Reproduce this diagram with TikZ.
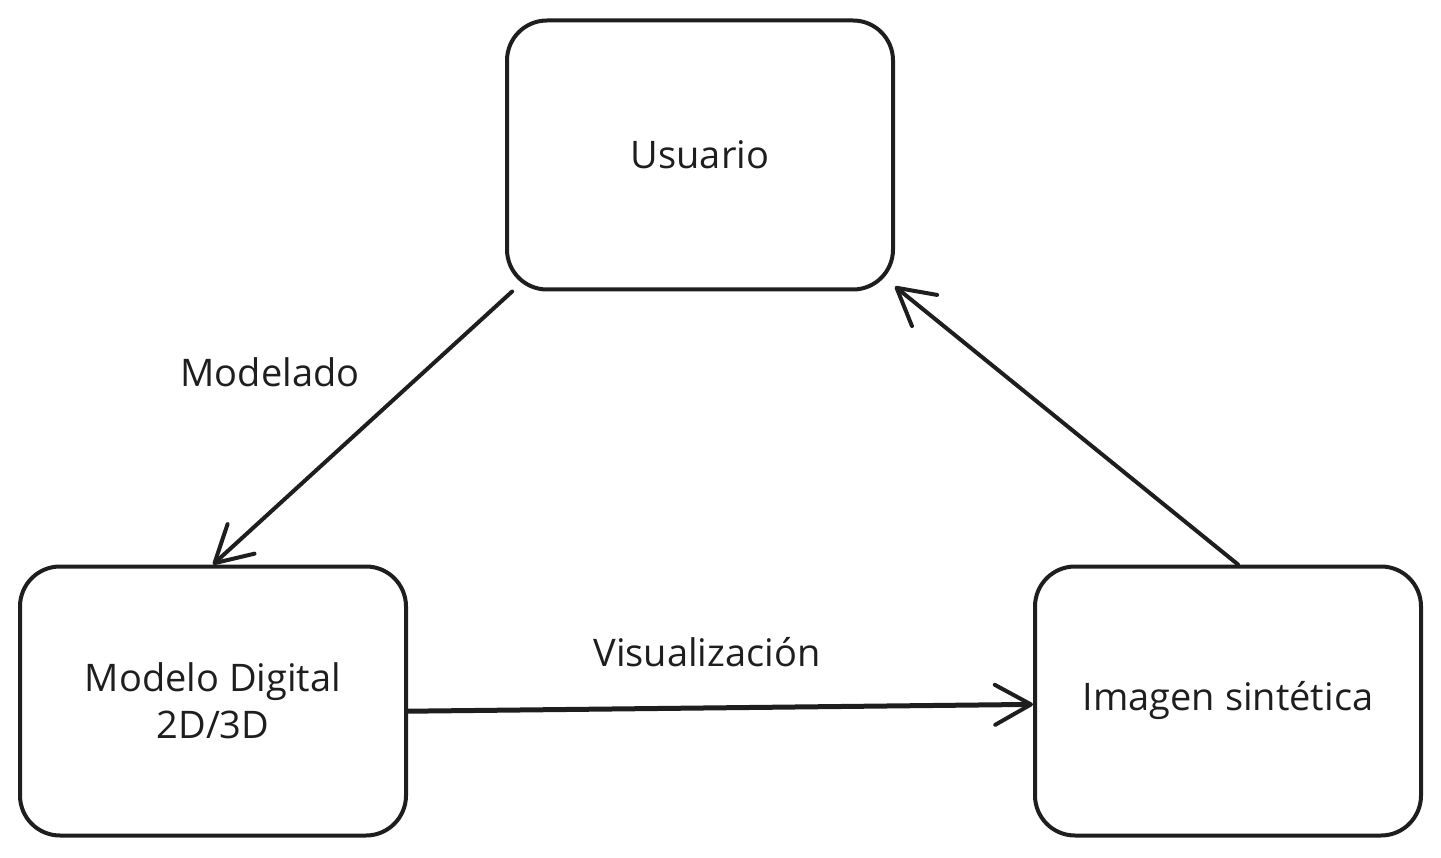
\documentclass[tikz,border=0pt]{standalone}
\usepackage{fontspec}
\setmainfont{Open Sans}
\usetikzlibrary{arrows.meta}
\definecolor{ink}{HTML}{1E1E1E}

\begin{document}
\begin{tikzpicture}[x=1pt,y=-1pt]
\tikzstyle{box}=[rectangle,draw=ink,line width=4pt,rounded corners=40pt,minimum width=386pt,minimum height=269pt,align=center,font=\fontsize{38}{47}\selectfont,text=ink]
\tikzstyle{lbl}=[font=\fontsize{38}{47}\selectfont,text=ink]
\tikzstyle{flow}=[draw=ink,line width=4pt,line cap=round,-{Straight Barb[length=36pt,width=40pt,line width=4pt,round]}]
\useasboundingbox (0,0) rectangle (1441,858);
\node [box] (U) at (700,155) {Usuario};
\node [box] (M) at (213,701) {Modelo Digital\\2D/3D};
\node [box] (I) at (1228,701) {Imagen sintética};
\node [lbl] (Lmod) at (270,372) {Modelado};
\node [lbl] (Lvis) at (707,652) {Visualización};
\draw [flow] (U.216) -- (M.north);
\draw [flow,line width=5pt] (M.-3) -- (I.181.5);
\draw [flow] ([xshift=10pt]I.north) -- (U.-34);
\end{tikzpicture}
\end{document}
